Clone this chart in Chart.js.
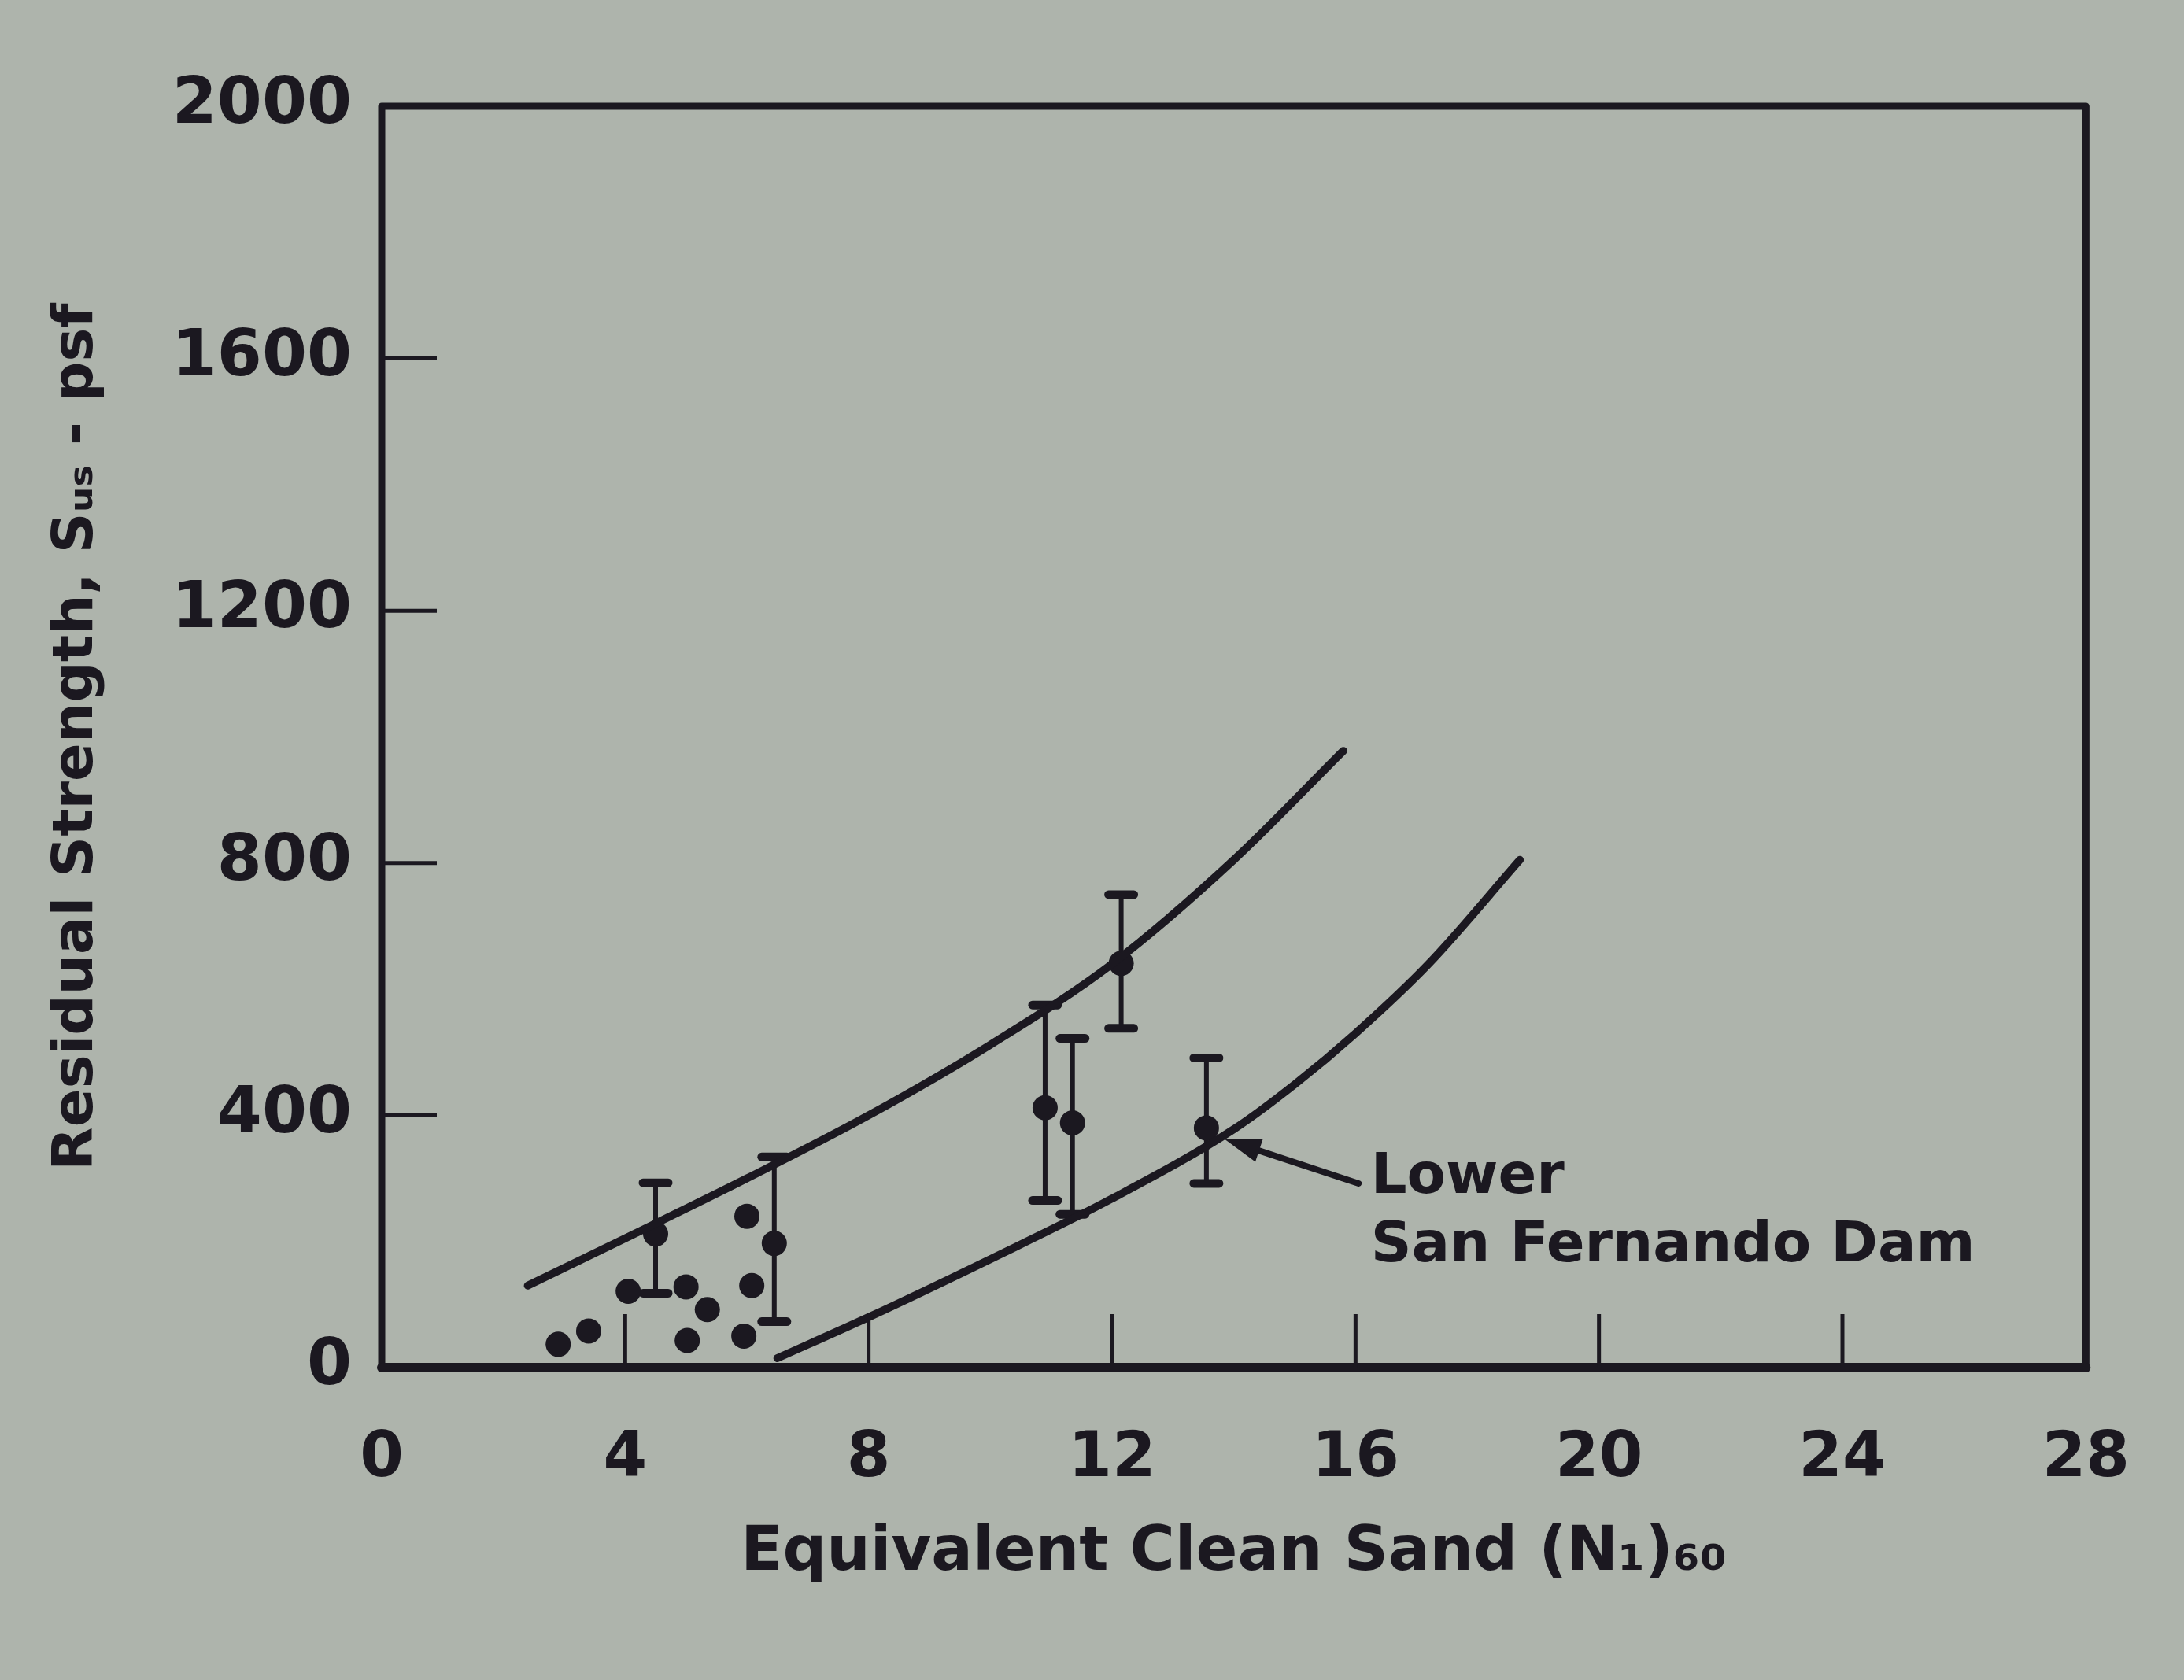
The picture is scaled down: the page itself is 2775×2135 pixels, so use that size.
<!DOCTYPE html>
<html>
<head>
<meta charset="utf-8">
<script src="https://cdn.jsdelivr.net/npm/chart.js@4.4.1/dist/chart.umd.min.js"></script>
<style>
  html, body { margin: 0; padding: 0; background: #aeb4ac; }
  #wrap { width: 2775px; height: 2135px; position: relative; }
  canvas { display: block; }
</style>
</head>
<body>
<div id="wrap"><canvas id="chart" width="2775" height="2135"></canvas></div>
<script>
// ---------------- data ----------------
const xTickValues = [0, 4, 8, 12, 16, 20, 24, 28];
const yTickValues = [0, 400, 800, 1200, 1600, 2000];

// case histories shown as single points
const dotX = [2.9, 3.4, 4.05, 5.0, 5.35, 5.02, 6.0, 6.08, 5.95];
const dotY = [37, 58, 121, 128, 92, 43, 240, 130, 50];

// case histories shown with a range (point, lower and upper bound)
const barX    = [4.5, 6.45, 10.9, 11.35, 12.15, 13.55];
const barY    = [212, 197, 412, 388, 641, 380];
const barLow  = [118, 73, 265, 243, 538, 292];
const barHigh = [293, 334, 575, 522, 750, 491];

// upper and lower bounding curves
const upperX = [2.4, 4, 6, 8, 10, 12, 14, 15.8];
const upperY = [130, 205, 300, 400, 512, 640, 805, 978];
const lowerX = [6.5, 8, 10, 12, 14, 15, 16, 17.2, 18.7];
const lowerY = [15, 80, 172, 268, 378, 449, 530, 640, 805];

// annotation
const noteLines = ['Lower', 'San Fernando Dam'];
const noteX = 16.25;
const noteY = [300, 192];
const arrowTail = [16.05, 292];
const arrowTip = [13.85, 362];

// ---------------- styling ----------------
const INK = '#1b1820';
const FONT = '"DejaVu Sans", "Liberation Sans", sans-serif';
const AREA = { left: 485, right: 2718, top: 135, bottom: 1738 };

const framePlugin = {
  id: 'frame',
  beforeDatasetsDraw(chart) {
    const ctx = chart.ctx;
    const { left, right, top, bottom } = chart.chartArea;
    const xs = chart.scales.x, ys = chart.scales.y;
    ctx.save();
    ctx.strokeStyle = INK;
    ctx.lineJoin = 'round';
    ctx.lineCap = 'round';
    ctx.lineWidth = 9;
    ctx.strokeRect(left, top, right - left, bottom - top);
    ctx.lineWidth = 12;
    ctx.beginPath(); ctx.moveTo(left, bottom); ctx.lineTo(right, bottom); ctx.stroke();
    // inward tick marks
    ctx.lineWidth = 5;
    ctx.lineCap = 'butt';
    yTickValues.slice(1, -1).forEach(v => {
      const py = ys.getPixelForValue(v);
      ctx.beginPath(); ctx.moveTo(left, py); ctx.lineTo(left + 70, py); ctx.stroke();
    });
    xTickValues.slice(1, -1).forEach(v => {
      const px = xs.getPixelForValue(v);
      ctx.beginPath(); ctx.moveTo(px, bottom); ctx.lineTo(px, bottom - 68); ctx.stroke();
    });
    // error bars
    barX.forEach((bx, i) => {
      const px = xs.getPixelForValue(bx);
      const lo = ys.getPixelForValue(barLow[i]);
      const hi = ys.getPixelForValue(barHigh[i]);
      ctx.lineWidth = 6;
      ctx.lineCap = 'butt';
      ctx.beginPath(); ctx.moveTo(px, lo); ctx.lineTo(px, hi); ctx.stroke();
      ctx.lineWidth = 11;
      ctx.lineCap = 'round';
      [lo, hi].forEach(py => {
        ctx.beginPath(); ctx.moveTo(px - 16, py); ctx.lineTo(px + 16, py); ctx.stroke();
      });
    });
    ctx.restore();
  },
  afterDatasetsDraw(chart) {
    const ctx = chart.ctx;
    const xs = chart.scales.x, ys = chart.scales.y;
    ctx.save();
    ctx.strokeStyle = INK;
    ctx.fillStyle = INK;
    const tx = xs.getPixelForValue(arrowTail[0]), ty = ys.getPixelForValue(arrowTail[1]);
    const hx = xs.getPixelForValue(arrowTip[0]), hy = ys.getPixelForValue(arrowTip[1]);
    const ang = Math.atan2(hy - ty, hx - tx);
    const L = 46, W = 15;
    ctx.lineWidth = 8;
    ctx.lineCap = 'round';
    ctx.beginPath(); ctx.moveTo(tx, ty);
    ctx.lineTo(hx - Math.cos(ang) * L * 0.8, hy - Math.sin(ang) * L * 0.8); ctx.stroke();
    ctx.beginPath();
    ctx.moveTo(hx, hy);
    ctx.lineTo(hx - Math.cos(ang) * L + Math.sin(ang) * W, hy - Math.sin(ang) * L - Math.cos(ang) * W);
    ctx.lineTo(hx - Math.cos(ang) * L - Math.sin(ang) * W, hy - Math.sin(ang) * L + Math.cos(ang) * W);
    ctx.closePath(); ctx.fill();
    ctx.font = 'bold 72px ' + FONT;
    ctx.textAlign = 'left';
    ctx.textBaseline = 'middle';
    noteLines.forEach((t, i) => {
      ctx.fillText(t, xs.getPixelForValue(noteX), ys.getPixelForValue(noteY[i]));
    });
    ctx.restore();
  }
};

const chart = new Chart(document.getElementById('chart'), {
  data: {
    datasets: [
      {
        type: 'line', label: 'Upper bound',
        data: upperX.map((x, i) => ({ x, y: upperY[i] })),
        borderColor: INK, borderWidth: 10, pointRadius: 0,
        cubicInterpolationMode: 'monotone', fill: false, borderCapStyle: 'round'
      },
      {
        type: 'line', label: 'Lower bound',
        data: lowerX.map((x, i) => ({ x, y: lowerY[i] })),
        borderColor: INK, borderWidth: 10, pointRadius: 0,
        cubicInterpolationMode: 'monotone', fill: false, borderCapStyle: 'round'
      },
      {
        type: 'scatter', label: 'Case histories',
        data: dotX.map((x, i) => ({ x, y: dotY[i] })).concat(barX.map((x, i) => ({ x, y: barY[i] }))),
        backgroundColor: INK, borderWidth: 0, pointRadius: 16, pointStyle: 'circle'
      }
    ]
  },
  options: {
    responsive: false,
    animation: false,
    devicePixelRatio: 1,
    layout: { padding: { top: AREA.top, right: 2775 - AREA.right, left: 0, bottom: 0 } },
    plugins: { legend: { display: false }, tooltip: { enabled: false } },
    scales: {
      x: {
        type: 'linear', min: 0, max: 28,
        afterFit(s) { s.height = 2135 - AREA.bottom; },
        afterBuildTicks(s) { s.ticks = xTickValues.map(v => ({ value: v })); },
        grid: { display: false, drawTicks: false },
        border: { display: false },
        ticks: {
          color: INK, padding: 69, maxRotation: 0,
          font: { family: FONT, size: 80, weight: 'bold' },
          callback: v => String(v)
        },
        title: {
          display: true, text: 'Equivalent Clean Sand (N₁)₆₀', color: INK,
          font: { family: FONT, size: 78, weight: 'bold' }, padding: { top: 4, bottom: 113 }
        }
      },
      y: {
        type: 'linear', min: 0, max: 2000,
        afterFit(s) { s.width = AREA.left; },
        afterBuildTicks(s) { s.ticks = yTickValues.map(v => ({ value: v })); },
        grid: { display: false, drawTicks: false },
        border: { display: false },
        ticks: {
          color: INK, padding: 38,
          font: { family: FONT, size: 82, weight: 'bold' },
          callback: v => String(v)
        },
        title: {
          display: true, text: 'Residual Strength, Sᵤₛ - psf', color: INK,
          font: { family: FONT, size: 72, weight: 'bold' }, padding: { top: 55 }
        }
      }
    }
  },
  plugins: [framePlugin]
});
</script>
</body>
</html>
